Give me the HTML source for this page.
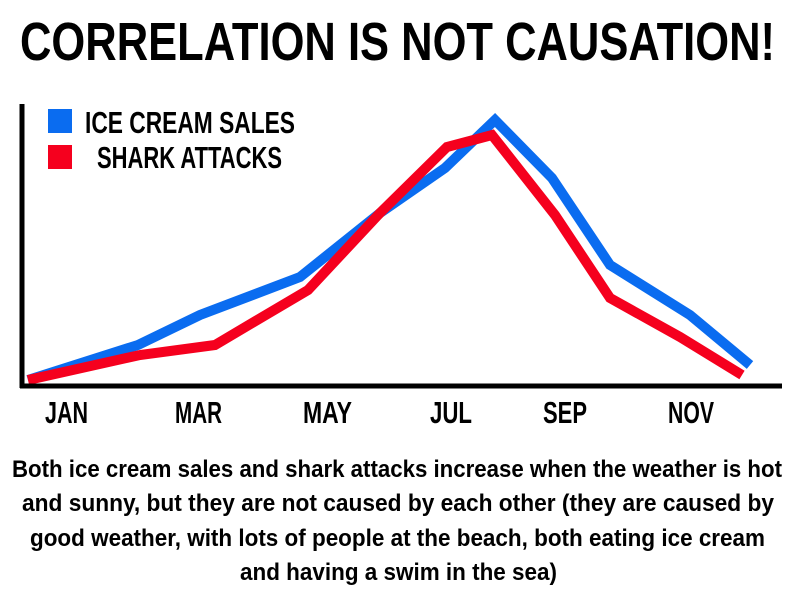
<!DOCTYPE html>
<html><head><meta charset="utf-8"><style>
body{margin:0;width:794px;height:600px;background:#fff;overflow:hidden}
text{font-family:"Liberation Sans",sans-serif;font-weight:bold;fill:#000}
</style></head><body>
<svg width="794" height="600" style="position:absolute;left:0;top:0">
<text x="20" y="60" font-size="54" textLength="755" lengthAdjust="spacingAndGlyphs">CORRELATION IS NOT CAUSATION!</text>
<polyline points="28,380 138,345 200,315 300,277 380,213 445,168 495,120 552,178 610,265 690,315 750,365" fill="none" stroke="#0a6cf0" stroke-width="10"/>
<polyline points="28,380 140,355 215,345 308,290 380,213 447,147 492,135 555,215 610,298 680,337 742,375" fill="none" stroke="#f5001e" stroke-width="10"/>
<line x1="22" y1="104" x2="22" y2="388" stroke="#000" stroke-width="5"/>
<line x1="20" y1="386" x2="782" y2="386" stroke="#000" stroke-width="5"/>
<rect x="48" y="109" width="24" height="24" fill="#0a6cf0"/>
<rect x="48" y="145" width="24" height="24" fill="#f5001e"/>
<text x="85" y="133" font-size="31" textLength="210" lengthAdjust="spacingAndGlyphs">ICE CREAM SALES</text>
<text x="97" y="168" font-size="31" textLength="185" lengthAdjust="spacingAndGlyphs">SHARK ATTACKS</text>
<g font-size="31">
<text x="45" y="423" textLength="43" lengthAdjust="spacingAndGlyphs">JAN</text>
<text x="175" y="423" textLength="47" lengthAdjust="spacingAndGlyphs">MAR</text>
<text x="303" y="423" textLength="49" lengthAdjust="spacingAndGlyphs">MAY</text>
<text x="430" y="423" textLength="42" lengthAdjust="spacingAndGlyphs">JUL</text>
<text x="543" y="423" textLength="44" lengthAdjust="spacingAndGlyphs">SEP</text>
<text x="668" y="423" textLength="46" lengthAdjust="spacingAndGlyphs">NOV</text>
</g>
<g font-size="24">
<text x="12" y="477" textLength="770" lengthAdjust="spacingAndGlyphs">Both ice cream sales and shark attacks increase when the weather is hot</text>
<text x="22" y="511" textLength="752" lengthAdjust="spacingAndGlyphs">and sunny, but they are not caused by each other (they are caused by</text>
<text x="30" y="546" textLength="735" lengthAdjust="spacingAndGlyphs">good weather, with lots of people at the beach, both eating ice cream</text>
<text x="240" y="580" textLength="317" lengthAdjust="spacingAndGlyphs">and having a swim in the sea)</text>
</g>
</svg>
</body></html>
